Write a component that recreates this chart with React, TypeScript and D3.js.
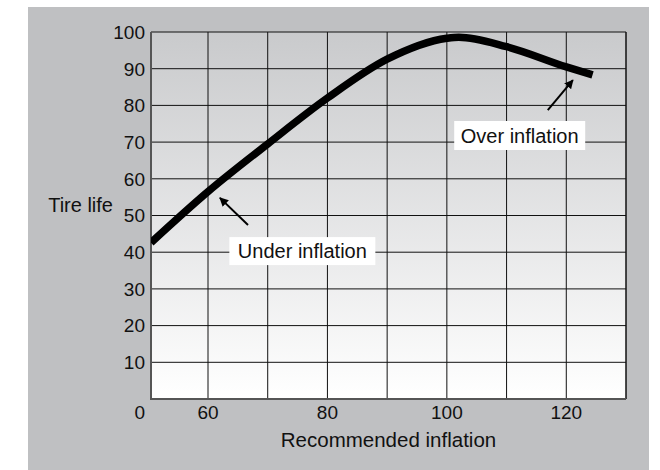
import React from 'react';
import * as d3 from 'd3';

const width = 660;
const height = 470;
const margin = { top: 32, left: 151, right: 34, bottom: 71 };
const innerW = width - margin.left - margin.right;
const innerH = height - margin.top - margin.bottom;

// tire life curve (inflation, life)
const inflation = [50, 60, 70, 80, 90, 100, 102, 110, 120, 124.4];
const tireLife = [42.6, 56.5, 69.5, 82, 92.6, 98.3, 98.6, 96, 90.5, 88.3];

const xGrid = [60, 70, 80, 90, 100, 110, 120];
const xLabels = [60, 80, 100, 120];
const yTicks = [10, 20, 30, 40, 50, 60, 70, 80, 90, 100];

const font = '"Liberation Sans", Arial, sans-serif';

const App = () => {
  // axis is broken between 0 and 60, so the first step is a bit narrower
  const x = d3.scaleLinear().domain([50, 60, 130]).range([0, 57, innerW]);
  const y = d3.scaleLinear().domain([0, 100]).range([innerH, 0]);

  const pts: [number, number][] = inflation.map((v, i) => [v, tireLife[i]]);
  const line = d3.line<[number, number]>()
    .x(d => x(d[0]))
    .y(d => y(d[1]))
    .curve(d3.curveMonotoneX);

  const arrow = (x1: number, y1: number, x2: number, y2: number, key: string) => (
    <line key={key} x1={x(x1)} y1={y(y1)} x2={x(x2)} y2={y(y2)}
      stroke="#000" strokeWidth={2} markerEnd="url(#head)" />
  );

  return (
    <svg width={width} height={height}
      style={{ position: 'absolute', left: 0, top: 0, display: 'block' }}>
      <defs>
        <linearGradient id="bg" x1="0" y1="0" x2="0" y2="1">
          <stop offset="0" stopColor="#c9cacc" />
          <stop offset="1" stopColor="#ffffff" />
        </linearGradient>
        <clipPath id="clip">
          <rect width={innerW} height={innerH} />
        </clipPath>
        <marker id="head" viewBox="0 0 10 10" refX="9" refY="5"
          markerWidth="4.5" markerHeight="4.5" orient="auto">
          <path d="M0,0 L10,5 L0,10 Z" fill="#000" />
        </marker>
      </defs>
      <rect x={28} y={7} width={621} height={463} fill="#bfc0c2" />
      <g transform={`translate(${margin.left},${margin.top})`} fontFamily={font} fill="#111">
        <rect width={innerW} height={innerH} fill="url(#bg)" />
        {yTicks.map(t => (
          <line key={'gy' + t} x1={0} x2={innerW} y1={y(t)} y2={y(t)} stroke="#111" strokeWidth={1} />
        ))}
        {xGrid.map(t => (
          <line key={'gx' + t} x1={x(t)} x2={x(t)} y1={0} y2={innerH} stroke="#111" strokeWidth={1} />
        ))}
        <line x1={innerW} x2={innerW} y1={0} y2={innerH} stroke="#111" strokeWidth={1.5} />
        <line x1={0} x2={0} y1={0} y2={innerH + 1} stroke="#555" strokeWidth={2} />
        <line x1={-1} x2={innerW} y1={innerH} y2={innerH} stroke="#555" strokeWidth={2} />

        {yTicks.map(t => (
          <text key={'ty' + t} x={-6} y={y(t)} dy="0.36em" textAnchor="end" fontSize={19}>{t}</text>
        ))}
        <text x={-6} y={innerH + 13} dy="0.36em" textAnchor="end" fontSize={19}>0</text>
        {xLabels.map(t => (
          <text key={'tx' + t} x={x(t)} y={innerH + 13} dy="0.36em" textAnchor="middle" fontSize={19}>{t}</text>
        ))}

        <text x={-38} y={y(50) - 11} dy="0.36em" textAnchor="end" fontSize={20}>Tire life</text>
        <text x={innerW / 2} y={innerH + 41} dy="0.36em" textAnchor="middle" fontSize={20.5}>Recommended inflation</text>

        <path d={line(pts) ?? ''} fill="none" stroke="#000" strokeWidth={7.5} clipPath="url(#clip)" />

        {arrow(66.7, 47.4, 62, 54.8, 'a1')}
        {arrow(116.9, 78.7, 121.1, 86.9, 'a2')}

        <rect x={x(75.8) - 73} y={y(40.3) - 14} width={146} height={28} fill="#fff" />
        <text x={x(75.8)} y={y(40.3)} dy="0.36em" textAnchor="middle" fontSize={20}>Under inflation</text>
        <rect x={x(112.2) - 65.5} y={y(71.8) - 14.5} width={131} height={29} fill="#fff" />
        <text x={x(112.2)} y={y(71.8)} dy="0.36em" textAnchor="middle" fontSize={20}>Over inflation</text>
      </g>
    </svg>
  );
};

export default App;
